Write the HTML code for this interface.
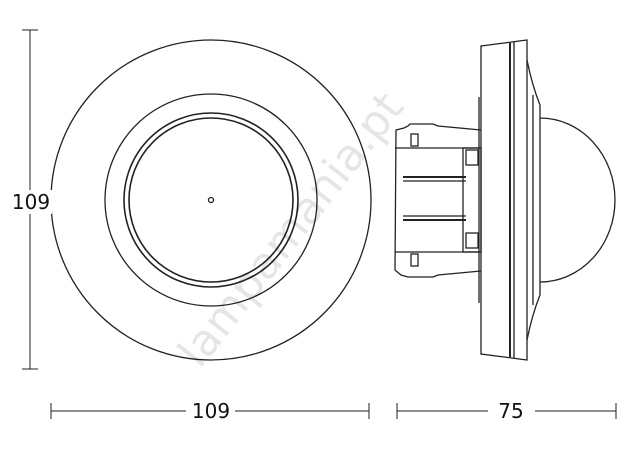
<!DOCTYPE html>
<html><head><style>body{margin:0;background:#fff}svg{display:block}</style></head><body>
<svg width="632" height="474" viewBox="0 0 632 474" xmlns="http://www.w3.org/2000/svg" font-family="'DejaVu Sans','Liberation Sans',sans-serif">
<g fill="none" stroke="#222" stroke-width="1.3">
<circle cx="211" cy="200" r="160"/>
<circle cx="211" cy="200" r="106"/>
<circle cx="211" cy="200" r="87" stroke-width="1.6"/>
<circle cx="211" cy="200" r="82" stroke-width="1.6"/>
<circle cx="211" cy="200" r="2.5"/>
<line x1="30" y1="30" x2="30" y2="369" stroke-width="1"/>
<line x1="22" y1="30" x2="38" y2="30" stroke-width="1"/>
<line x1="22" y1="369" x2="38" y2="369" stroke-width="1"/>
<line x1="51" y1="411" x2="186" y2="411" stroke-width="1"/>
<line x1="235" y1="411" x2="369" y2="411" stroke-width="1"/>
<line x1="51" y1="403" x2="51" y2="419" stroke-width="1"/>
<line x1="369" y1="403" x2="369" y2="419" stroke-width="1"/>
<line x1="397" y1="411" x2="488" y2="411" stroke-width="1"/>
<line x1="535" y1="411" x2="616" y2="411" stroke-width="1"/>
<line x1="397" y1="403" x2="397" y2="419" stroke-width="1"/>
<line x1="616" y1="403" x2="616" y2="419" stroke-width="1"/>
<path d="M481 46 L527 40 L527 360 L481 354 Z"/>
<line x1="510" y1="43" x2="510" y2="357" stroke-width="2"/>
<line x1="514" y1="42" x2="514" y2="358"/>
<line x1="479" y1="97" x2="479" y2="303"/>
<path d="M527 60 Q532 85 540 105 L540 295 Q532 315 527 340"/>
<path d="M533 95 L533 305"/>
<path d="M540 118 A75 82 0 0 1 540 282"/>
<path d="M481 130 L438 126 L433 124 L410 124 L408 126 L404 128 L396 130 L395 270 L401 275 L408 277 L433 277 L438 275 L481 271"/>
<line x1="395" y1="148" x2="481" y2="148"/>
<line x1="395" y1="252" x2="481" y2="252"/>
<rect x="463" y="148" width="18" height="104"/>
<line x1="403" y1="177" x2="466" y2="177" stroke-width="2"/>
<line x1="403" y1="220" x2="466" y2="220" stroke-width="2"/>
<line x1="403" y1="181" x2="466" y2="181"/>
<line x1="403" y1="216" x2="466" y2="216"/>
<rect x="411" y="134" width="7" height="12"/>
<rect x="411" y="254" width="7" height="12"/>
<rect x="466" y="150" width="12" height="15"/>
<rect x="466" y="233" width="12" height="15"/>
</g>
<rect x="10" y="190" width="42" height="24" fill="#fff"/>
<g font-size="20" fill="#111">
<text x="211" y="418" text-anchor="middle">109</text>
<text x="511" y="418" text-anchor="middle">75</text>
<text x="31" y="209" text-anchor="middle">109</text>
</g>
<text x="0" y="0" font-size="44" fill="#000" fill-opacity="0.1" transform="translate(200,370) rotate(-52)">lampamania.pt</text>
</svg>
</body></html>
